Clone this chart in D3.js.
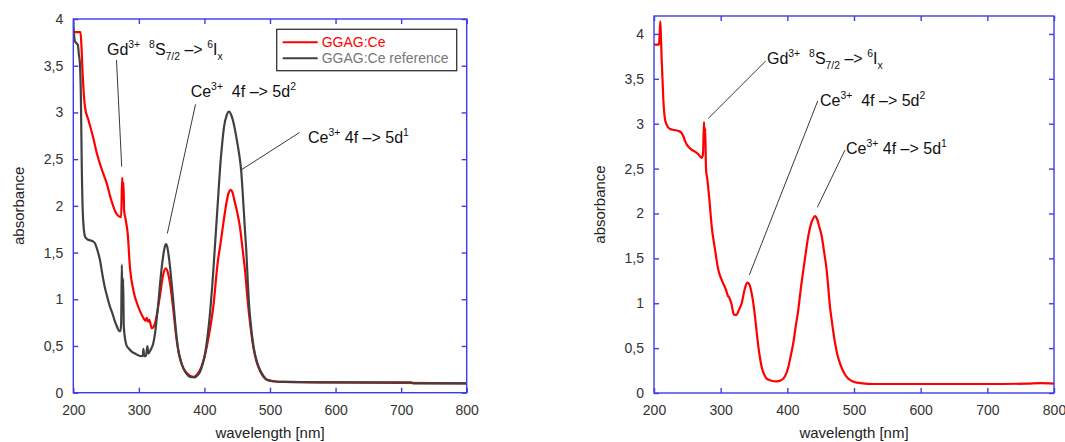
<!DOCTYPE html>
<html><head><meta charset="utf-8">
<script src="https://cdn.jsdelivr.net/npm/d3@7"></script>
<style>
body{margin:0;background:#fff;}
text{font-family:"Liberation Sans",Arial,sans-serif;white-space:pre;}
</style>
</head><body>
<svg id="c" width="1065" height="442"></svg>
<script>
// ---------- data ----------
const xTicks = [200, 300, 400, 500, 600, 700, 800];
const yTicks = [0, 0.5, 1, 1.5, 2, 2.5, 3, 3.5, 4];
const legendLabels = ["GGAG:Ce", "GGAG:Ce reference"];
const xLabel = "wavelength [nm]";
const yLabel = "absorbance";

// left panel, GGAG:Ce  [wavelength nm, absorbance]
const ggagLeft = [[200,3.86],[211,3.86],[212.5,3.7],[214,3.45],[216,3.2],[218,3.05],[223,2.92],[230,2.74],[236,2.56],[243,2.4],[251,2.24],[258,2.06],[264,1.94],[269,1.89],[273,1.88],[274.5,2.3],[275.5,2.18],[276.5,2.25],[277.5,1.95],[280,1.85],[283,1.7],[286.5,1.33],[291.5,1.1],[299,0.92],[307,0.8],[310,0.77],[312,0.8],[314,0.76],[316,0.78],[319.6,0.69],[322,0.7],[325,0.75],[328,0.86],[332,1.03],[337,1.26],[341,1.33],[344,1.29],[347.5,1.17],[352.5,0.89],[357.7,0.56],[361,0.42],[365,0.31],[373,0.21],[383,0.17],[388,0.19],[393,0.24],[398,0.33],[403.5,0.49],[408.5,0.68],[413.5,0.92],[420,1.38],[425,1.62],[429,1.82],[434,2.05],[437,2.14],[440.5,2.17],[443,2.14],[446,2.05],[450,1.93],[454,1.78],[458,1.55],[462,1.3],[466,0.98],[470,0.72],[475,0.47],[480,0.32],[485,0.23],[490,0.17],[495,0.14],[505,0.125],[520,0.115],[600,0.11],[700,0.105],[800,0.1]];

// left panel, GGAG:Ce reference
const refLeft = [[200,3.97],[201,3.85],[202.5,3.76],[205,3.74],[207,3.72],[208.5,3.62],[210,3.53],[211.5,3.2],[213,2.38],[215,1.85],[218,1.67],[222,1.64],[226,1.63],[230,1.62],[233,1.6],[237,1.52],[240.7,1.42],[244,1.28],[248,1.13],[252,1.02],[256,0.92],[260,0.84],[263.6,0.76],[267,0.7],[270,0.66],[272,0.66],[273,0.75],[274,1.37],[275,0.95],[276,1.22],[277,0.71],[281,0.51],[285,0.47],[289,0.44],[294,0.42],[299,0.4],[304,0.39],[306,0.4],[307,0.47],[308,0.39],[311,0.4],[313,0.5],[314.5,0.42],[318,0.46],[322,0.53],[325,0.65],[327,0.78],[330,0.98],[332,1.14],[335,1.35],[337,1.46],[339.5,1.56],[341.4,1.59],[343,1.57],[345,1.49],[347.5,1.35],[350,1.17],[352.5,0.98],[355,0.78],[357.5,0.6],[360,0.46],[364,0.34],[368,0.26],[373,0.2],[378,0.17],[385.6,0.165],[390,0.19],[393,0.22],[397,0.3],[401,0.42],[405,0.62],[408.5,0.85],[412,1.15],[415,1.46],[418,1.78],[421,2.1],[424,2.42],[427,2.66],[430,2.85],[434,2.97],[437.5,3.01],[441,2.97],[444,2.9],[447,2.8],[450,2.68],[453,2.55],[456,2.38],[458,2.18],[460,1.95],[462,1.72],[464,1.5],[466,1.2],[468,0.95],[470,0.78],[475,0.49],[480,0.33],[485,0.24],[490,0.18],[495,0.14],[505,0.12],[520,0.115],[600,0.11],[715,0.11],[720,0.1],[800,0.1]];

// right panel, GGAG:Ce
const ggagRight = [[200,3.88],[207.5,3.88],[208.5,4.0],[209.5,4.14],[210.5,3.95],[211.5,3.72],[213,3.45],[214,3.27],[216.5,3.05],[219,2.99],[224,2.94],[230,2.93],[236.5,2.92],[241,2.9],[244,2.86],[247,2.8],[249,2.77],[252,2.74],[256.5,2.71],[261.5,2.69],[266.5,2.66],[271.5,2.62],[273.5,2.66],[275,3.02],[276,2.8],[276.8,2.95],[278,2.5],[280,2.38],[283,2.16],[286.5,1.86],[291.5,1.6],[296.5,1.37],[301.5,1.26],[308,1.15],[311,1.08],[312.5,1.07],[314,1.04],[316,1.0],[319,0.89],[321,0.87],[324,0.87],[327,0.92],[331.5,1.0],[336.5,1.17],[340,1.23],[343,1.21],[346.5,1.11],[349,1.0],[351.5,0.85],[354,0.68],[356.5,0.52],[359,0.39],[361.5,0.29],[365,0.21],[369,0.16],[375,0.14],[384,0.13],[390,0.14],[394,0.16],[398,0.21],[401.5,0.29],[405,0.41],[409,0.56],[412.5,0.74],[416.5,0.93],[420,1.15],[424,1.37],[428,1.58],[431.5,1.75],[435,1.87],[438.5,1.94],[441.5,1.97],[445,1.93],[448,1.85],[451.5,1.75],[455,1.58],[459,1.37],[464,0.96],[467.5,0.76],[471.5,0.56],[475,0.43],[479,0.33],[484,0.24],[489,0.18],[495,0.14],[501.5,0.12],[510,0.11],[530,0.1],[600,0.1],[700,0.1],[760,0.105],[780,0.11],[800,0.105]];

// annotation texts: [text, "sup"/"sub"/undefined]
const gdLabel = [["Gd"],["3+","sup"],["  "],["8","sup"],["S"],["7/2","sub"],[" –> "],["6","sup"],["I"],["x","sub"]];
const ce2Label = [["Ce"],["3+","sup"],["  4f –> 5d"],["2","sup"]];
const ce1Label = [["Ce"],["3+","sup"],[" 4f –> 5d"],["1","sup"]];

// ---------- drawing ----------
const svg = d3.select("#c");
const BLUE = "#3c3cee";
const RED = "#ff0000";
const GRAY = "#404040";
const fmt = d => String(d).replace(".", ",");

function rich(sel, parts, fs) {
  let off = 0;
  parts.forEach(p => {
    const target = p[1] === "sup" ? -0.42 * fs : p[1] === "sub" ? 0.3 * fs : 0;
    sel.append("tspan").attr("dy", target - off)
      .attr("font-size", p[1] ? fs * 0.65 : fs).text(p[0]);
    off = target;
  });
}

function panel(cfg) {
  const x = d3.scaleLinear().domain([200, 800]).range([cfg.l, cfg.r]);
  const y = d3.scaleLinear().domain([0, cfg.ymax]).range([cfg.b, cfg.t]);
  const g = svg.append("g");
  const cid = "clip" + cfg.id;
  g.append("clipPath").attr("id", cid).append("rect")
    .attr("x", cfg.l).attr("y", cfg.t).attr("width", cfg.r - cfg.l).attr("height", cfg.b - cfg.t);

  const line = d3.line().x(d => x(d[0])).y(d => y(d[1])).curve(d3.curveMonotoneX);
  cfg.series.forEach(s => {
    g.append("path").datum(s.data).attr("clip-path", `url(#${cid})`)
      .attr("fill", "none").attr("stroke", s.color).attr("stroke-width", 2.2)
      .attr("stroke-linejoin", "round").attr("d", line);
  });

  const style = a => {
    a.select(".domain").attr("stroke", BLUE).attr("stroke-width", 1.4);
    a.selectAll(".tick line").attr("stroke", BLUE).attr("stroke-width", 1.4);
    a.selectAll(".tick text").attr("fill", "#333").attr("font-size", 14)
      .attr("font-family", '"Liberation Sans",Arial,sans-serif');
  };
  g.append("g").attr("transform", `translate(0,${cfg.b})`)
    .call(d3.axisBottom(x).tickValues(xTicks).tickSizeInner(-5).tickSizeOuter(0).tickPadding(12).tickFormat(fmt)).call(style);
  g.append("g").attr("transform", `translate(0,${cfg.t})`)
    .call(d3.axisTop(x).tickValues(xTicks).tickSizeInner(-5).tickSizeOuter(0).tickFormat("")).call(style);
  g.append("g").attr("transform", `translate(${cfg.l},0)`)
    .call(d3.axisLeft(y).tickValues(yTicks).tickSizeInner(-5).tickSizeOuter(0).tickPadding(10).tickFormat(fmt)).call(style);
  g.append("g").attr("transform", `translate(${cfg.r},0)`)
    .call(d3.axisRight(y).tickValues(yTicks).tickSizeInner(-5).tickSizeOuter(0).tickFormat("")).call(style);
  g.selectAll(".domain").attr("d", null);
  g.append("rect").attr("x", cfg.l).attr("y", cfg.t).attr("width", cfg.r - cfg.l).attr("height", cfg.b - cfg.t)
    .attr("fill", "none").attr("stroke", BLUE).attr("stroke-width", 1.4);

  // axis titles
  g.append("text").attr("x", (cfg.l + cfg.r) / 2).attr("y", 438).attr("text-anchor", "middle")
    .attr("font-size", 15).attr("fill", "#222").text(xLabel);
  g.append("text").attr("transform", `translate(${cfg.ylx},${(cfg.t + cfg.b) / 2}) rotate(-90)`)
    .attr("text-anchor", "middle").attr("font-size", 15).attr("fill", "#222").text(yLabel);

  // annotations
  cfg.ann.forEach(a => {
    g.append("line").attr("x1", x(a.line[0])).attr("y1", y(a.line[1]))
      .attr("x2", x(a.line[2])).attr("y2", y(a.line[3]))
      .attr("stroke", "#3a3a3a").attr("stroke-width", 1);
    const t = g.append("text").attr("x", x(a.at[0])).attr("y", y(a.at[1])).attr("fill", "#111");
    rich(t, a.parts, 16);
  });

  // legend
  if (cfg.legend) {
    const L = cfg.legend;
    g.append("rect").attr("x", L.x).attr("y", L.y).attr("width", L.w).attr("height", L.h)
      .attr("fill", "#fff").attr("stroke", "#333").attr("stroke-width", 1.3);
    const cols = [RED, GRAY], tcols = [RED, "#777"];
    legendLabels.forEach((lab, i) => {
      const yy = L.y + 13 + i * 16;
      g.append("line").attr("x1", L.x + 6).attr("x2", L.x + 41).attr("y1", yy).attr("y2", yy)
        .attr("stroke", cols[i]).attr("stroke-width", 2);
      g.append("text").attr("x", L.x + 45).attr("y", yy + 5).attr("font-size", 14)
        .attr("fill", tcols[i]).text(lab);
    });
  }
}

panel({
  id: "L", l: 73.3, r: 466.7, t: 19, b: 392.7, ymax: 4, ylx: 24,
  series: [{data: ggagLeft, color: RED}, {data: refLeft, color: GRAY}],
  ann: [
    {parts: gdLabel, at: [251.4, 3.613], line: [265.9, 3.561, 273.8, 2.419]},
    {parts: ce2Label, at: [379, 3.165], line: [386.4, 3.087, 343.4, 1.704]},
    {parts: ce1Label, at: [558, 2.673], line: [545, 2.785, 457, 2.389]}
  ],
  legend: {x: 276.7, y: 29.3, w: 180, h: 41.4}
});

panel({
  id: "R", l: 654, r: 1054, t: 16, b: 393, ymax: 4.2, ylx: 605,
  series: [{data: ggagRight, color: RED}],
  ann: [
    {parts: gdLabel, at: [369.5, 3.665], line: [367.6, 3.699, 281.5, 3.06]},
    {parts: ce2Label, at: [449, 3.197], line: [445.6, 3.253, 343, 1.315]},
    {parts: ce1Label, at: [488, 2.663], line: [486.5, 2.707, 445, 2.069]}
  ]
});
</script>
</body></html>
